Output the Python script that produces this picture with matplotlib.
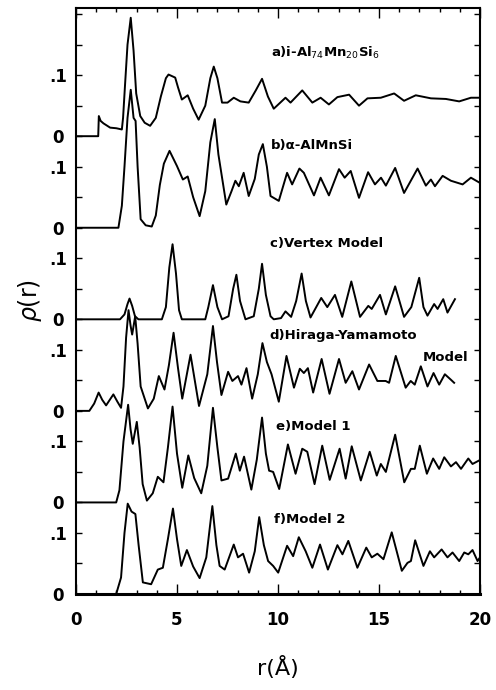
import matplotlib
matplotlib.use("Agg")
import matplotlib.pyplot as plt
import numpy as np

# ---------------- data ----------------
labels = ["a)i-Al$_{74}$Mn$_{20}$Si$_{6}$", "b)\u03b1-AlMnSi", "c)Vertex Model",
          "d)Hiraga-Yamamoto", "e)Model 1", "f)Model 2"]
offsets = [0.75, 0.60, 0.45, 0.30, 0.15, 0.0]

a_r = [0, 1.10, 1.13, 1.22, 1.36, 1.69, 2.00, 2.27, 2.33, 2.42, 2.55, 2.71, 2.85, 2.98, 3.18, 3.40,
       3.67, 3.95, 4.20, 4.45, 4.58, 4.91, 5.05, 5.24, 5.53, 5.80, 6.07, 6.40, 6.65, 6.82, 7.00, 7.23,
       7.50, 7.81, 8.14, 8.55, 8.90, 9.21, 9.50, 9.79, 10.37, 10.62, 11.20, 11.70, 12.11, 12.52, 12.94,
       13.52, 14.01, 14.43, 15.09, 15.75, 16.24, 16.82, 17.57, 18.31, 18.97, 19.55, 20.00]
a_rho = [0, 0, 0.033, 0.025, 0.021, 0.014, 0.013, 0.011, 0.03, 0.08, 0.15, 0.194, 0.14, 0.07, 0.033, 0.022,
         0.017, 0.03, 0.065, 0.095, 0.101, 0.096, 0.080, 0.060, 0.067, 0.045, 0.027, 0.050, 0.095, 0.114, 0.095, 0.055,
         0.055, 0.063, 0.057, 0.055, 0.075, 0.094, 0.065, 0.045, 0.063, 0.055, 0.075, 0.055, 0.063, 0.052, 0.064,
         0.068, 0.050, 0.062, 0.063, 0.070, 0.058, 0.067, 0.062, 0.061, 0.057, 0.063, 0.063]

b_r = [0, 2.10, 2.27, 2.40, 2.55, 2.71, 2.85, 2.95, 3.05, 3.20, 3.45, 3.75, 3.95, 4.15, 4.35, 4.63, 5.00,
       5.29, 5.53, 5.80, 6.12, 6.40, 6.65, 6.87, 7.05, 7.44, 7.70, 7.89, 8.06, 8.30, 8.55, 8.85, 9.05, 9.25,
       9.45, 9.63, 10.04, 10.45, 10.70, 11.06, 11.28, 11.78, 12.11, 12.52, 13.02, 13.30, 13.60, 14.01, 14.46,
       14.80, 15.10, 15.34, 15.80, 16.24, 16.91, 17.32, 17.57, 17.77, 18.15, 18.56, 19.14, 19.55, 19.97]
b_rho = [0, 0, 0.036, 0.10, 0.18, 0.226, 0.18, 0.175, 0.10, 0.014, 0.004, 0.002, 0.02, 0.07, 0.105, 0.126, 0.101,
         0.079, 0.084, 0.05, 0.019, 0.06, 0.14, 0.178, 0.12, 0.038, 0.06, 0.077, 0.068, 0.090, 0.052, 0.08, 0.12, 0.137,
         0.10, 0.052, 0.044, 0.090, 0.071, 0.097, 0.090, 0.053, 0.082, 0.053, 0.096, 0.082, 0.093, 0.049, 0.091,
         0.071, 0.082, 0.069, 0.098, 0.057, 0.097, 0.069, 0.079, 0.068, 0.085, 0.077, 0.071, 0.082, 0.074]

c_r = [0, 2.18, 2.40, 2.55, 2.65, 2.78, 2.92, 3.09, 4.25, 4.45, 4.62, 4.78, 4.95, 5.10, 5.24, 6.40, 6.55,
       6.78, 7.00, 7.23, 7.55, 7.78, 7.94, 8.12, 8.39, 8.80, 9.05, 9.21, 9.40, 9.63, 9.79, 10.15, 10.37,
       10.65, 10.90, 11.17, 11.38, 11.61, 12.14, 12.44, 12.82, 13.18, 13.63, 14.06, 14.47, 14.64, 15.05,
       15.34, 15.80, 16.24, 16.60, 16.99, 17.20, 17.40, 17.73, 17.90, 18.18, 18.39, 18.76]
c_rho = [0, 0, 0.008, 0.025, 0.034, 0.022, 0.005, 0, 0, 0.02, 0.085, 0.123, 0.075, 0.015, 0, 0, 0.02,
         0.056, 0.02, 0, 0.005, 0.05, 0.073, 0.03, 0, 0.005, 0.05, 0.091, 0.04, 0.005, 0, 0.002, 0.013,
         0.004, 0.03, 0.075, 0.03, 0.003, 0.035, 0.020, 0.040, 0.004, 0.062, 0.004, 0.022, 0.017, 0.040,
         0.008, 0.054, 0.004, 0.02, 0.068, 0.02, 0.006, 0.025, 0.017, 0.033, 0.011, 0.033]

d_r = [0, 0.66, 0.90, 1.12, 1.30, 1.49, 1.85, 2.05, 2.23, 2.35, 2.48, 2.60, 2.70, 2.78, 2.93, 3.05, 3.20,
       3.56, 3.85, 4.10, 4.38, 4.60, 4.83, 5.05, 5.26, 5.67, 6.09, 6.50, 6.78, 6.98, 7.20, 7.53, 7.74, 8.02,
       8.19, 8.44, 8.72, 9.00, 9.23, 9.45, 9.68, 10.04, 10.42, 10.79, 11.08, 11.28, 11.48, 11.74, 12.16,
       12.55, 13.02, 13.35, 13.68, 14.01, 14.51, 14.92, 15.33, 15.50, 15.83, 16.32, 16.57, 16.77, 17.07,
       17.40, 17.70, 17.98, 18.26, 18.56, 18.72]
d_rho = [0, 0, 0.012, 0.030, 0.018, 0.009, 0.027, 0.015, 0.005, 0.04, 0.12, 0.165, 0.14, 0.125, 0.155, 0.11, 0.04,
         0.004, 0.02, 0.057, 0.035, 0.075, 0.128, 0.07, 0.020, 0.092, 0.008, 0.06, 0.139, 0.08, 0.026, 0.064, 0.049, 0.057,
         0.043, 0.070, 0.020, 0.06, 0.111, 0.08, 0.060, 0.015, 0.090, 0.038, 0.069, 0.062, 0.070, 0.030, 0.085,
         0.028, 0.085, 0.046, 0.065, 0.035, 0.076, 0.049, 0.049, 0.046, 0.090, 0.038, 0.049, 0.043, 0.073,
         0.040, 0.062, 0.043, 0.060, 0.051, 0.046]

e_r = [0, 1.99, 2.15, 2.35, 2.58, 2.70, 2.81, 3.01, 3.15, 3.30, 3.51, 3.80, 4.05, 4.33, 4.55, 4.78, 5.00,
       5.26, 5.56, 5.85, 6.20, 6.50, 6.78, 7.00, 7.20, 7.53, 7.91, 8.11, 8.32, 8.68, 8.95, 9.21, 9.40, 9.56,
       9.76, 10.06, 10.49, 10.87, 11.20, 11.45, 11.81, 12.19, 12.56, 13.05, 13.35, 13.65, 14.10, 14.54,
       14.89, 15.09, 15.34, 15.80, 16.25, 16.58, 16.77, 17.02, 17.37, 17.68, 17.98, 18.23, 18.56, 18.81,
       19.06, 19.42, 19.63, 19.97]
e_rho = [0, 0, 0.02, 0.10, 0.16, 0.12, 0.096, 0.132, 0.09, 0.03, 0.003, 0.015, 0.042, 0.033, 0.09, 0.157, 0.08,
         0.024, 0.077, 0.04, 0.015, 0.06, 0.155, 0.09, 0.036, 0.039, 0.080, 0.052, 0.075, 0.021, 0.07, 0.139, 0.08, 0.052,
         0.050, 0.022, 0.095, 0.047, 0.088, 0.083, 0.030, 0.093, 0.037, 0.088, 0.039, 0.092, 0.036, 0.083,
         0.044, 0.063, 0.050, 0.111, 0.033, 0.055, 0.055, 0.093, 0.047, 0.072, 0.055, 0.074, 0.059, 0.066,
         0.055, 0.072, 0.063, 0.069]

f_r = [0, 1.99, 2.23, 2.40, 2.56, 2.75, 2.94, 3.10, 3.31, 3.72, 4.05, 4.30, 4.55, 4.80, 5.00, 5.21, 5.49,
       5.80, 6.12, 6.45, 6.75, 6.95, 7.11, 7.36, 7.81, 8.02, 8.27, 8.57, 8.85, 9.07, 9.30, 9.51, 9.76, 10.01,
       10.45, 10.75, 11.03, 11.37, 11.70, 12.08, 12.47, 12.94, 13.19, 13.48, 13.93, 14.37, 14.64, 14.92,
       15.22, 15.63, 16.13, 16.41, 16.58, 16.79, 17.20, 17.52, 17.73, 18.10, 18.39, 18.64, 18.97, 19.22,
       19.42, 19.63, 19.88, 20.0]
f_rho = [0, 0, 0.027, 0.10, 0.148, 0.135, 0.131, 0.08, 0.019, 0.016, 0.040, 0.043, 0.09, 0.140, 0.09, 0.046, 0.072,
         0.045, 0.026, 0.06, 0.144, 0.08, 0.046, 0.040, 0.081, 0.060, 0.066, 0.035, 0.07, 0.126, 0.08, 0.054, 0.046, 0.035,
         0.079, 0.062, 0.093, 0.070, 0.043, 0.081, 0.040, 0.080, 0.065, 0.087, 0.043, 0.076, 0.060, 0.066,
         0.057, 0.101, 0.038, 0.051, 0.054, 0.088, 0.046, 0.070, 0.060, 0.073, 0.060, 0.068, 0.054, 0.068,
         0.065, 0.072, 0.054, 0.06]

curves_r = [a_r, b_r, c_r, d_r, e_r, f_r]
curves_rho = [a_rho, b_rho, c_rho, d_rho, e_rho, f_rho]

# label anchor positions (r, y in axis units)
label_pos = [(9.63, 0.887), (9.63, 0.734), (9.58, 0.574), (9.55, 0.423), (9.88, 0.275), (9.79, 0.122)]

xticks_major = [0, 5, 10, 15, 20]
xtick_labels = ["0", "5", "10", "15", "20"]

# ---------------- figure ----------------
fig = plt.figure(figsize=(4.96, 6.90), dpi=100)
ax = fig.add_axes([76 / 496, 96 / 690, 404 / 496, 586 / 690])

for r, rho, off in zip(curves_r, curves_rho, offsets):
    ax.plot(r, np.array(rho) + off, color="black", lw=1.4, solid_joinstyle="round")

for lab, (x, y) in zip(labels, label_pos):
    ax.text(x, y, lab, fontsize=9.5, fontweight="bold", ha="left", va="center", color="black")
ax.text(17.15, 0.387, "Model", fontsize=9.5, fontweight="bold", ha="left", va="center")

ax.set_xlim(0, 20)
ax.set_ylim(0, 0.96)

# y ticks every 0.05, labelled "0" at each baseline and ".1" above it
yt = np.round(np.arange(0, 0.951, 0.05), 2)
ylabs = []
for v in yt:
    if any(abs(v - o) < 1e-6 for o in offsets):
        ylabs.append("0")
    elif any(abs(v - o - 0.1) < 1e-6 for o in offsets):
        ylabs.append(".1")
    else:
        ylabs.append("")
ax.set_yticks(yt)
ax.set_yticklabels(ylabs, fontsize=12, fontweight="bold", ha="center")

ax.set_xticks(xticks_major)
ax.set_xticklabels(xtick_labels, fontsize=12, fontweight="bold")
ax.set_xticks(np.arange(0, 21, 1), minor=True)

ax.tick_params(axis="y", which="both", direction="in", left=True, right=True, length=4, width=1, pad=13)
ax.tick_params(axis="x", which="major", direction="in", top=True, bottom=True, length=7, width=1, pad=12)
ax.tick_params(axis="x", which="minor", direction="in", top=True, bottom=True, length=3, width=1)

for s in ax.spines.values():
    s.set_linewidth(1.5)
ax.spines["bottom"].set_linewidth(2.2)

fig.text(30 / 496, 1 - 300 / 690, r"$\rho$(r)", rotation=90, fontsize=17, ha="center", va="center")
fig.text(278 / 496, 1 - 668 / 690, "r(\u00c5)", fontsize=16, ha="center", va="center")

fig.savefig("out.png", dpi=100)
